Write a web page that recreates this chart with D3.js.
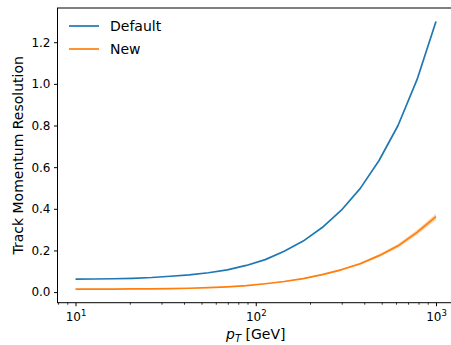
<!DOCTYPE html>
<html>
<head>
<meta charset="utf-8">
<script src="https://cdn.jsdelivr.net/npm/d3@7"></script>
<style>
  html, body { margin: 0; padding: 0; background: #fff; }
  svg { display: block; font-family: "DejaVu Sans", sans-serif; }
</style>
</head>
<body>
<svg id="chart" width="451" height="345"></svg>
<script>
// transverse momentum points (GeV)
const pt = [10, 12.7, 16.2, 20.7, 26.4, 33.6, 42.8, 54.6, 69.5, 88.6,
            112.9, 143.8, 183.3, 233.6, 297.6, 379.3, 483.3, 615.8, 784.8, 1000];

// resolution, default configuration
const resDefault = [0.062, 0.063, 0.064, 0.066, 0.070, 0.076, 0.083, 0.093, 0.107, 0.128,
                    0.156, 0.196, 0.245, 0.310, 0.392, 0.497, 0.632, 0.800, 1.020, 1.300];

// resolution, new configuration, with its uncertainty band
const resNew = [0.0140, 0.0142, 0.0145, 0.0150, 0.0157, 0.0168, 0.0185, 0.0210, 0.0250, 0.0310,
                0.0400, 0.0510, 0.0650, 0.0840, 0.1070, 0.1360, 0.1750, 0.2220, 0.2870, 0.3620];
const resNewLo = [0.0134, 0.0136, 0.0139, 0.0144, 0.0151, 0.0161, 0.0178, 0.0202, 0.0240, 0.0298,
                  0.0384, 0.0490, 0.0624, 0.0806, 0.1027, 0.1306, 0.1680, 0.2131, 0.2755, 0.3475];
const resNewHi = [0.0146, 0.0148, 0.0151, 0.0156, 0.0163, 0.0175, 0.0192, 0.0218, 0.0260, 0.0322,
                  0.0416, 0.0530, 0.0676, 0.0874, 0.1113, 0.1414, 0.1820, 0.2309, 0.2985, 0.3765];

const yTicks = [0.0, 0.2, 0.4, 0.6, 0.8, 1.0, 1.2];
const xMajor = [10, 100, 1000];
const xMajorLabels = [["10", "1"], ["10", "2"], ["10", "3"]];

const seriesNames = ["Default", "New"];
const colors = ["#1f77b4", "#ff7f0e"];

const svg = d3.select("#chart");
const plot = { left: 57.5, right: 454, top: 8, bottom: 302.7 };

// log x axis padded by 5% of the data span in log space
const lx0 = Math.log10(d3.min(pt)), lx1 = Math.log10(d3.max(pt));
const lpad = (lx1 - lx0) * 0.05;
const x = d3.scaleLog()
  .domain([Math.pow(10, lx0 - lpad), Math.pow(10, lx1 + lpad)])
  .range([plot.left, plot.right]);

const yMin = d3.min(resNewLo), yMax = d3.max(resDefault);
const ypad = (yMax - yMin) * 0.05;
const y = d3.scaleLinear()
  .domain([yMin - ypad, yMax + ypad])
  .range([plot.bottom, plot.top]);

const idx = d3.range(pt.length);

// uncertainty band
svg.append("path")
  .attr("d", d3.area()
    .x(i => x(pt[i]))
    .y0(i => y(resNewLo[i]))
    .y1(i => y(resNewHi[i]))(idx))
  .attr("fill", colors[1])
  .attr("fill-opacity", 0.35)
  .attr("stroke", "none");

const line = vals => d3.line().x(i => x(pt[i])).y(i => y(vals[i]))(idx);

svg.append("path")
  .attr("d", line(resDefault))
  .attr("fill", "none")
  .attr("stroke", colors[0])
  .attr("stroke-width", 1.7)
  .attr("stroke-linejoin", "round");

svg.append("path")
  .attr("d", line(resNew))
  .attr("fill", "none")
  .attr("stroke", colors[1])
  .attr("stroke-width", 1.7)
  .attr("stroke-linejoin", "round");

// frame
svg.append("rect")
  .attr("x", plot.left).attr("y", plot.top)
  .attr("width", plot.right - plot.left).attr("height", plot.bottom - plot.top)
  .attr("fill", "none").attr("stroke", "#000").attr("stroke-width", 1);

// y axis
const yAxis = svg.append("g")
  .attr("transform", `translate(${plot.left},0)`)
  .call(d3.axisLeft(y).tickValues(yTicks).tickFormat(d3.format(".1f"))
    .tickSize(3.5).tickPadding(3.5));
yAxis.select(".domain").remove();
yAxis.selectAll("line").attr("stroke", "#000");
yAxis.selectAll("text").attr("fill", "#000")
  .style("font-family", "DejaVu Sans").style("font-size", "12px");

// x axis: minor ticks
const [d0, d1] = x.domain();
const xMinor = [];
for (let e = 0; e <= 3; e++) {
  for (let m = 2; m <= 9; m++) {
    const v = m * Math.pow(10, e);
    if (v >= d0 && v <= d1) xMinor.push(v);
  }
}
const xMinorAxis = svg.append("g")
  .attr("transform", `translate(0,${plot.bottom})`)
  .call(d3.axisBottom(x).tickValues(xMinor).tickFormat("").tickSize(2));
xMinorAxis.select(".domain").remove();
xMinorAxis.selectAll("line").attr("stroke", "#000").attr("stroke-width", 0.8);

// x axis: decades with power labels
const xMajorAxis = svg.append("g")
  .attr("transform", `translate(0,${plot.bottom})`)
  .call(d3.axisBottom(x).tickValues(xMajor).tickFormat("").tickSize(3.5));
xMajorAxis.select(".domain").remove();
xMajorAxis.selectAll("line").attr("stroke", "#000");
xMajorAxis.selectAll(".tick").each(function(d, i) {
  const t = d3.select(this).append("text")
    .attr("y", 18)
    .attr("text-anchor", "middle")
    .attr("fill", "#000")
    .style("font-family", "DejaVu Sans")
    .style("font-size", "12px");
  t.append("tspan").text(xMajorLabels[i][0]);
  t.append("tspan").attr("dy", -5).style("font-size", "8.5px").text(xMajorLabels[i][1]);
});

// axis titles
const xTitle = svg.append("text")
  .attr("x", (plot.left + plot.right) / 2)
  .attr("y", 339)
  .attr("text-anchor", "middle")
  .attr("fill", "#000")
  .style("font-size", "14px");
xTitle.append("tspan").style("font-style", "italic").text("p");
xTitle.append("tspan").style("font-style", "italic").style("font-size", "10px").attr("dy", 2.5).text("T");
xTitle.append("tspan").attr("dy", -2.5).text(" [GeV]");

svg.append("text")
  .attr("transform", `translate(23,${(plot.top + plot.bottom) / 2}) rotate(-90)`)
  .attr("text-anchor", "middle")
  .attr("fill", "#000")
  .style("font-size", "14px")
  .text("Track Momentum Resolution");

// legend
const legend = svg.append("g");
seriesNames.forEach((name, i) => {
  const ly = 26 + i * 23;
  legend.append("line")
    .attr("x1", 69).attr("x2", 99).attr("y1", ly).attr("y2", ly)
    .attr("stroke", colors[i]).attr("stroke-width", 1.7);
  legend.append("text")
    .attr("x", 110).attr("y", ly + 5)
    .attr("fill", "#000")
    .style("font-size", "14px")
    .text(name);
});
</script>
</body>
</html>
